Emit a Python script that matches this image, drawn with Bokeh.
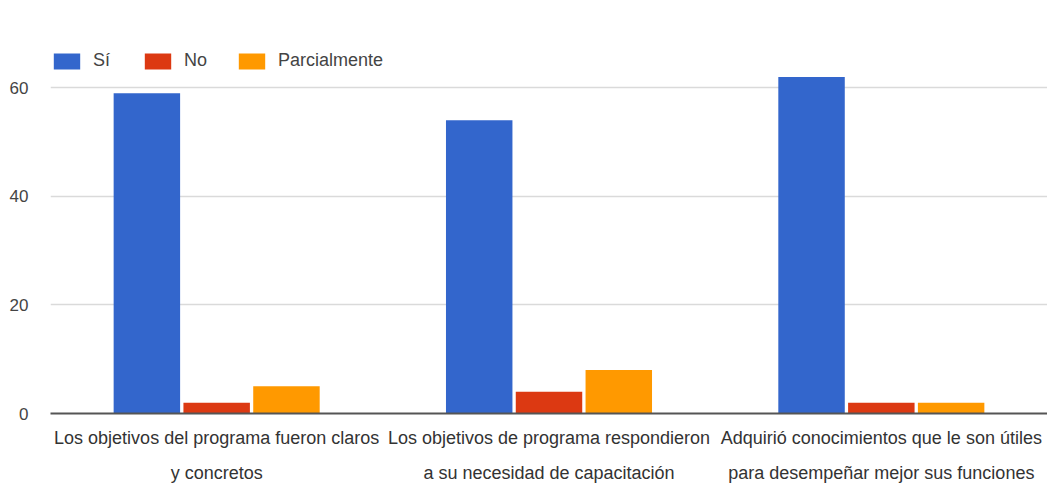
from bokeh.plotting import figure
from bokeh.models import ColumnDataSource, Range1d, FactorRange
from bokeh.transform import dodge
from bokeh.embed import file_html
from bokeh.resources import INLINE

categories = [
    "Los objetivos del programa fueron claros\ny concretos",
    "Los objetivos de programa respondieron\na su necesidad de capacitación",
    "Adquirió conocimientos que le son útiles\npara desempeñar mejor sus funciones",
]
si = [59, 54, 62]
no = [2, 4, 2]
parcialmente = [5, 8, 2]
y_ticks = [0, 20, 40, 60]

source = ColumnDataSource(dict(cat=categories, si=si, no=no, parc=parcialmente))

p = figure(
    x_range=FactorRange(*categories),
    y_range=Range1d(0, 70),
    width=1047, height=485,
    output_backend="svg", toolbar_location=None,
    min_border_left=50, min_border_right=0, min_border_top=33, min_border_bottom=71,
)

series = [("si", "Sí", "#3366CC", -0.21), ("no", "No", "#DC3912", 0.0), ("parc", "Parcialmente", "#FF9900", 0.21)]
for col, label, color, off in series:
    p.vbar(x=dodge("cat", off, range=p.x_range), top=col, width=0.2, source=source,
           color=color, line_color=None, legend_label=label)

p.outline_line_color = None
p.xgrid.grid_line_color = None
p.ygrid.grid_line_color = "#dadada"
p.ygrid.grid_line_width = 1.5
p.yaxis.ticker = y_ticks
p.yaxis.axis_line_color = None
p.yaxis.major_tick_line_color = None
p.yaxis.minor_tick_line_color = None
p.yaxis.major_label_text_font = "Liberation Sans"
p.yaxis.major_label_text_font_size = "17px"
p.yaxis.major_label_text_color = "#444444"
p.yaxis.major_label_standoff = 16

p.xaxis.axis_line_color = "#555555"
p.xaxis.axis_line_width = 2
p.xaxis.major_tick_line_color = None
p.xaxis.minor_tick_line_color = None
p.xaxis.major_label_text_font = "Liberation Sans"
p.xaxis.major_label_text_font_size = "18px"
p.xaxis.major_label_text_color = "#333333"
p.xaxis.major_label_text_line_height = 1.75
p.xaxis.major_label_standoff = 8

lg = p.legend[0]
lg.orientation = "horizontal"
lg.location = (0, 342)
lg.glyph_width = 33
lg.glyph_height = 20
lg.label_standoff = 10
lg.spacing = 28
lg.padding = 0
lg.margin = 0
lg.background_fill_alpha = 0
lg.border_line_alpha = 0
lg.label_text_font = "Liberation Sans"
lg.label_text_font_size = "18px"
lg.label_text_color = "#444444"

open("out.html", "w").write(file_html(p, INLINE))
